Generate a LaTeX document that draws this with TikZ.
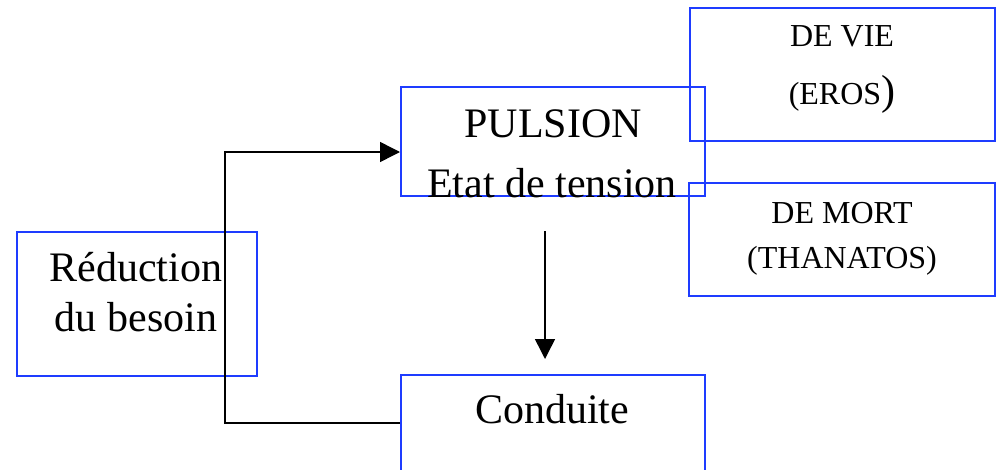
\documentclass[tikz,border=0pt]{standalone}
\usepackage{fontspec}
\setmainfont{Liberation Serif}
\usetikzlibrary{arrows.meta}
\definecolor{boxblue}{RGB}{30,60,255}
\begin{document}
\begin{tikzpicture}[x=1pt,y=-1pt,
  box/.style={draw=boxblue,line width=2pt,inner sep=0pt,rectangle},
  bigtxt/.style={font=\fontsize{42}{50}\selectfont,anchor=base,inner sep=0pt},
  smalltxt/.style={font=\fontsize{32}{38}\selectfont,anchor=base,inner sep=0pt},
  conn/.style={line width=1.5pt,line join=miter},
  tip/.style={-{Triangle[length=20pt,width=20pt]}}]
\useasboundingbox (0,0) rectangle (996,469);
% boxes
\node[box,minimum width=304pt,minimum height=109pt] (pulsion) at (553,141.5) {};
\node[box,minimum width=305pt,minimum height=133pt] (devie) at (842.5,74.5) {};
\node[box,minimum width=306pt,minimum height=113pt] (demort) at (842,239.5) {};
\node[box,minimum width=240pt,minimum height=144pt] (reduc) at (137,304) {};
\node[box,minimum width=304pt,minimum height=96pt] (cond) at (553,423) {};
% texts
\node[bigtxt] (t1) at (553,137) {PULSION};
\node[bigtxt] (t2) at (552,197) {Etat de tension};
\node[smalltxt] (t3) at (842,46) {DE VIE};
\node[smalltxt] (t4) at (842,104) {(EROS\fontsize{42}{50}\selectfont)};
\node[smalltxt] (t5) at (842,223) {DE MORT};
\node[smalltxt] (t6) at (842,268) {(THANATOS)};
\node[bigtxt] (t7) at (136,281) {Réduction};
\node[bigtxt] (t8) at (136,331) {du besoin};
\node[bigtxt] (t9) at (552,423) {Conduite};
% connectors
\coordinate (c1) at (225,423);
\coordinate (c2) at (225,152);
\coordinate (a1) at (545,231);
\coordinate (a2) at (545,359);
\draw[conn,tip] (cond.west) -- (c1) -- (c2) -- ([yshift=-10.5pt]pulsion.west);
\draw[conn,tip] (a1) -- (a2);
\end{tikzpicture}
\end{document}
